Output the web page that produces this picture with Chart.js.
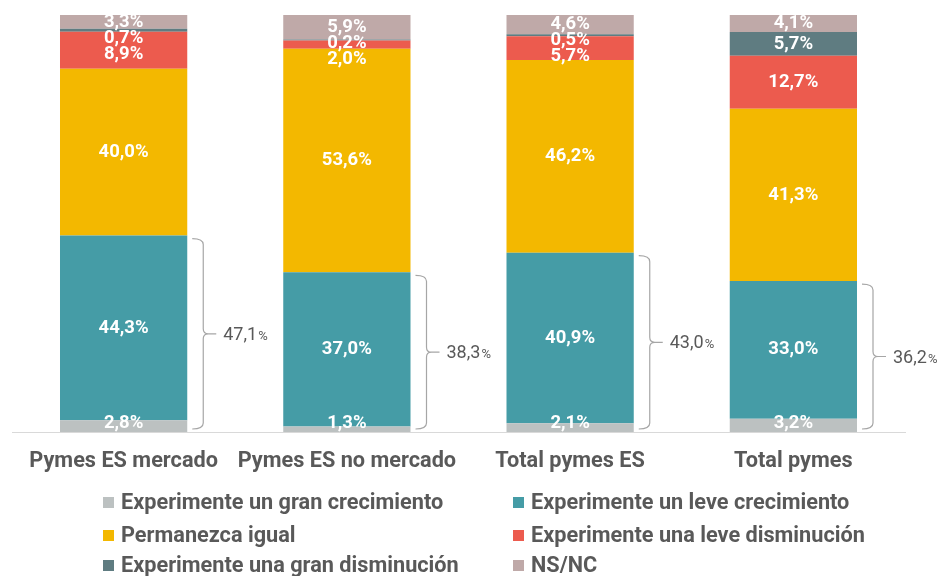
<!DOCTYPE html>
<html>
<head>
<meta charset="utf-8">
<script src="https://cdn.jsdelivr.net/npm/chart.js@4.4.0/dist/chart.umd.min.js"></script>
<style>
html,body{margin:0;padding:0;background:#fff;}
#wrap{width:940px;height:576px;position:relative;}
</style>
</head>
<body>
<div id="wrap"><canvas id="c" width="940" height="576"></canvas></div>
<script>
const categories = ['Pymes ES mercado', 'Pymes ES no mercado', 'Total pymes ES', 'Total pymes'];
const granCrecimiento = [2.8, 1.3, 2.1, 3.2];
const leveCrecimiento = [44.3, 37.0, 40.9, 33.0];
const permanezcaIgual = [40.0, 53.6, 46.2, 41.3];
const leveDisminucion = [8.9, 2.0, 5.7, 12.7];
const granDisminucion = [0.7, 0.2, 0.5, 5.7];
const nsnc = [3.3, 5.9, 4.6, 4.1];
const seriesNames = ['Experimente un gran crecimiento', 'Experimente un leve crecimiento', 'Permanezca igual',
  'Experimente una leve disminución', 'Experimente una gran disminución', 'NS/NC'];
const seriesColors = ['#bcc1c1', '#459ca6', '#f3b800', '#ec5b4e', '#5f7c81', '#bfa9a8'];
const seriesData = [granCrecimiento, leveCrecimiento, permanezcaIgual, leveDisminucion, granDisminucion, nsnc];

const fmt = v => v.toFixed(1).replace('.', ',');
const FONT = 'Roboto, "Liberation Sans", sans-serif';

const labelsPlugin = {
  id: 'segLabels',
  afterDatasetsDraw(chart) {
    const ctx = chart.ctx;
    const y = chart.scales.y;
    const base = y.getPixelForValue(0);
    ctx.save();
    ctx.font = 'bold 18.5px ' + FONT;
    ctx.fillStyle = '#ffffff';
    ctx.textAlign = 'center';
    ctx.textBaseline = 'middle';
    categories.forEach((cat, i) => {
      let prev = -Infinity;
      const pos = [];
      for (let d = chart.data.datasets.length - 1; d >= 0; d--) {
        const el = chart.getDatasetMeta(d).data[i];
        const c = (el.y + el.base) / 2;
        let yy = Math.max(c, prev + 16);
        prev = yy;
        pos.push([d, el.x, yy]);
      }
      pos.forEach(([d, x, yy]) => {
        yy = Math.min(yy, base - 9);
        ctx.fillText(fmt(chart.data.datasets[d].data[i]) + '%', x, yy);
      });
    });
    ctx.restore();
  }
};

const bracePlugin = {
  id: 'braces',
  afterDatasetsDraw(chart) {
    const ctx = chart.ctx;
    const y = chart.scales.y;
    ctx.save();
    categories.forEach((cat, i) => {
      const el = chart.getDatasetMeta(0).data[i];
      const right = el.x + el.width / 2;
      const sum = granCrecimiento[i] + leveCrecimiento[i];
      const yTop = y.getPixelForValue(sum) + 3;
      const yBot = y.getPixelForValue(0) - 3;
      const yMid = (yTop + yBot) / 2;
      const x0 = right + 5, x1 = right + 16, xt = right + 29;
      ctx.strokeStyle = '#a6a6a6';
      ctx.lineWidth = 1.2;
      ctx.beginPath();
      ctx.moveTo(x0, yTop);
      ctx.quadraticCurveTo(x1, yTop, x1, yTop + 6);
      ctx.lineTo(x1, yMid - 5);
      ctx.quadraticCurveTo(x1, yMid, x1 + 5, yMid);
      ctx.lineTo(xt, yMid);
      ctx.moveTo(x1 + 5, yMid);
      ctx.quadraticCurveTo(x1, yMid, x1, yMid + 5);
      ctx.lineTo(x1, yBot - 6);
      ctx.quadraticCurveTo(x1, yBot, x0, yBot);
      ctx.stroke();
      ctx.fillStyle = '#595959';
      ctx.textAlign = 'left';
      ctx.textBaseline = 'alphabetic';
      ctx.font = '18px ' + FONT;
      const t = fmt(sum);
      const tx = xt + 7;
      ctx.fillText(t, tx, yMid + 6);
      const w = ctx.measureText(t).width;
      ctx.font = '13px ' + FONT;
      ctx.fillText('%', tx + w + 1, yMid + 6);
    });
    ctx.restore();
  }
};

const legendPlugin = {
  id: 'customLegend',
  afterDraw(chart) {
    const ctx = chart.ctx;
    const cols = [103, 513];
    const rows = [503, 536, 566];
    ctx.save();
    ctx.font = 'bold 21.7px ' + FONT;
    ctx.textAlign = 'left';
    ctx.textBaseline = 'middle';
    seriesNames.forEach((name, k) => {
      const x = cols[k % 2];
      const yy = rows[Math.floor(k / 2)];
      ctx.fillStyle = seriesColors[k];
      ctx.fillRect(x, yy - 6, 11, 11);
      ctx.fillStyle = '#595959';
      ctx.fillText(name, x + 18, yy + 1);
    });
    ctx.restore();
  }
};

new Chart(document.getElementById('c'), {
  type: 'bar',
  data: {
    labels: categories,
    datasets: seriesNames.map((n, k) => ({
      label: n,
      data: seriesData[k],
      backgroundColor: seriesColors[k],
      borderWidth: 0,
      categoryPercentage: 1,
      barPercentage: 0.57
    }))
  },
  options: {
    responsive: false,
    animation: false,
    devicePixelRatio: 1,
    layout: { padding: { left: 12, right: 35, top: 15, bottom: 99 } },
    plugins: { legend: { display: false }, tooltip: { enabled: false } },
    scales: {
      x: {
        stacked: true,
        grid: { display: false, drawTicks: false },
        border: { display: true, color: '#d9d9d9', width: 1 },
        ticks: { color: '#595959', font: { family: FONT, size: 21.7, weight: 'bold' }, padding: 17, maxRotation: 0 },
        afterFit(scale) { scale.height = 45; }
      },
      y: {
        stacked: true, min: 0, max: 100, display: false
      }
    }
  },
  plugins: [labelsPlugin, bracePlugin, legendPlugin]
});
</script>
</body>
</html>
